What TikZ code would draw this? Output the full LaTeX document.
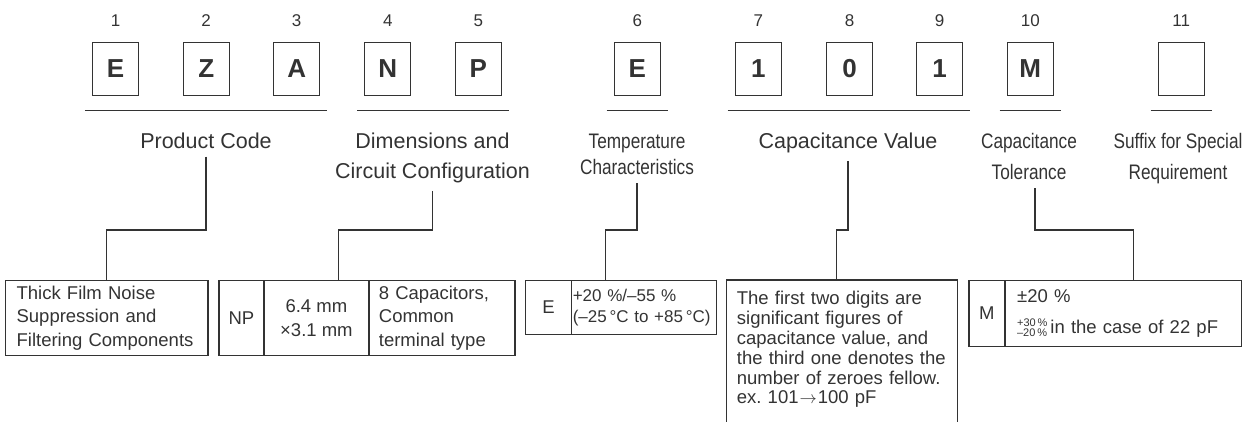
\documentclass[tikz,border=0pt]{standalone}
\usepackage{fontspec}
\setmainfont{Liberation Sans}
\newfontfamily\narrowfont[FakeStretch=0.82]{Liberation Sans}
\usetikzlibrary{positioning}
\definecolor{ink}{HTML}{333333}
\tikzset{x=1pt, y=-1pt,
every node/.style={text=ink},
digit/.style={inner sep=0pt, % Position numbers above the code letters
font=\fontsize{17}{17}\selectfont},
codebox/.style={draw=ink, line width=1.2pt,
minimum width=46pt, minimum height=53pt, inner sep=0pt,
font=\bfseries\fontsize{26}{26}\selectfont},
rule/.style={draw=ink, line width=1.2pt}, % Lines under the code groups
heading/.style={align=center, anchor=base, inner xsep=0pt, inner ysep=8pt,
font=\fontsize{21.5}{30}\selectfont}, % base is the last line
narrowheading/.style={align=center, anchor=base, inner xsep=0pt, inner ysep=8pt},
cell/.style={draw=ink, line width=1.2pt, anchor=north west, inner ysep=0pt,
font=\fontsize{18.5}{23.3}\selectfont},
link/.style={draw=ink, line width=1.2pt}}

\begin{document}
\begin{tikzpicture}
\useasboundingbox (0,0) rectangle (1253,422);
% code letters
\node[codebox] (b1) at (115.5,69) {E};
\node[codebox] (b2) at (206.2,69) {Z};
\node[codebox] (b3) at (296.7,69) {A};
\node[codebox] (b4) at (387.8,69) {N};
\node[codebox] (b5) at (478.3,69) {P};
\node[codebox] (b6) at (637.3,69) {E};
\node[codebox] (b7) at (758.3,69) {1};
\node[codebox] (b8) at (849.5,69) {0};
\node[codebox] (b9) at (939.7,69) {1};
\node[codebox] (b10) at (1030.3,69) {M};
\node[codebox] (b11) at (1181.3,69) {};
\node[digit, above=15pt of b1] (n1) {1};
\node[digit, above=15pt of b2] (n2) {2};
\node[digit, above=15pt of b3] (n3) {3};
\node[digit, above=15pt of b4] (n4) {4};
\node[digit, above=15pt of b5] (n5) {5};
\node[digit, above=15pt of b6] (n6) {6};
\node[digit, above=15pt of b7] (n7) {7};
\node[digit, above=15pt of b8] (n8) {8};
\node[digit, above=15pt of b9] (n9) {9};
\node[digit, above=15pt of b10] (n10) {10};
\node[digit, above=15pt of b11] (n11) {11};
\draw[rule] ([shift={(-7pt,-14.6pt)}]b1.south west) -- ([shift={(7pt,-14.6pt)}]b3.south east);
\draw[rule] ([shift={(-7pt,-14.6pt)}]b4.south west) -- ([shift={(7pt,-14.6pt)}]b5.south east);
\draw[rule] ([shift={(-7pt,-14.6pt)}]b6.south west) -- ([shift={(7pt,-14.6pt)}]b6.south east);
\draw[rule] ([shift={(-7pt,-14.6pt)}]b7.south west) -- ([shift={(7pt,-14.6pt)}]b9.south east);
\draw[rule] ([shift={(-7pt,-14.6pt)}]b10.south west) -- ([shift={(7pt,-14.6pt)}]b10.south east);
\draw[rule] ([shift={(-7pt,-14.6pt)}]b11.south west) -- ([shift={(7pt,-14.6pt)}]b11.south east);
% headings
\node[heading] (hprod) at (206,148.3) {Product Code};
\node[heading] (hdim) at (432.5,178.3) {Dimensions and\\Circuit Configuration};
\node[narrowheading, font=\narrowfont\fontsize{21}{26.7}\selectfont] (htemp) at (637,175) {Temperature\\Characteristics};
\node[heading] (hcap) at (848,148.3) {Capacitance Value};
\node[narrowheading, font=\narrowfont\fontsize{21}{31.7}\selectfont] (htol) at (1029,180) {Capacitance\\Tolerance};
\node[narrowheading, font=\narrowfont\fontsize{21}{31.7}\selectfont] (hsuf) at (1178,180) {Suffix for Special\\Requirement};
% description boxes
\node[cell, minimum width=202.3pt, minimum height=75pt, text width=180.3pt, inner xsep=11pt, align=left] (dprod) at (5,280)
  {Thick Film Noise\\Suppression and\\Filtering Components};
\node[cell, minimum width=45pt, minimum height=75pt, inner xsep=0pt] (dnp) at (218.3,280) {NP};
\node[cell, minimum width=105pt, minimum height=75pt, inner xsep=0pt, align=center,
  font=\fontsize{18.5}{24}\selectfont] (dsize) at (263.3,280) {6.4 mm\\×3.1 mm};
\node[cell, minimum width=146pt, minimum height=75pt, text width=126pt, inner xsep=10pt, align=left] (dtype) at (368.3,280)
  {8 Capacitors,\\Common\\terminal type};
\node[cell, minimum width=45.7pt, minimum height=54pt, inner xsep=0pt] (dtempcode) at (525,280) {E};
\node[cell, minimum width=145pt, minimum height=54pt, text width=142pt, inner xsep=1.5pt, align=left,
  font=\fontsize{17}{20.5}\selectfont] (dtemp) at (570.7,280) {+20 \%/–55 \%\\(–25\,°C to +85\,°C)};
\node[anchor=base west, inner sep=0pt, text width=215pt, align=left,
  font=\fontsize{18.5}{20}\selectfont] (dcap) at (736.7,304)
  {The first two digits are\\significant figures of\\capacitance value, and\\the third one denotes the\\number of zeroes fellow.\\ex.\ 101\kern1pt$\rightarrow$\kern1pt100 pF};
\draw[link] (726.7,422) |- (957.3,280) -- (957.3,422);
\coordinate (dcaptop) at (836.7,280);
\node[cell, minimum width=36pt, minimum height=66pt, inner xsep=0pt] (dtolcode) at (968.3,280) {M};
\node[cell, minimum width=236.4pt, minimum height=66pt, text width=212pt, inner xsep=12.2pt, align=left,
  font=\fontsize{18.5}{31.7}\selectfont] (dtol) at (1004.3,280)
  {±20 \%\\\raisebox{-3pt}{\fontsize{11}{11.5}\selectfont\shortstack[l]{+30\,\%\\–20\,\%}}\,in the case of 22 pF};
% connectors
\draw[link] (hprod.south) -- (hprod.south |- 0,230) -| (dprod.north);
\draw[link] (hdim.south) -- (hdim.south |- 0,230) -| ([xshift=22pt]dsize.north);
\draw[link] (htemp.south) -- (htemp.south |- 0,230) -| ([xshift=-38pt]dtemp.north);
\draw[link] (hcap.south) -- (hcap.south |- 0,230) -| (dcaptop);
\draw[link] ([xshift=6pt]htol.south) -- ([xshift=6pt]htol.south |- 0,230) -| ([xshift=10pt]dtol.north);
\end{tikzpicture}
\end{document}
